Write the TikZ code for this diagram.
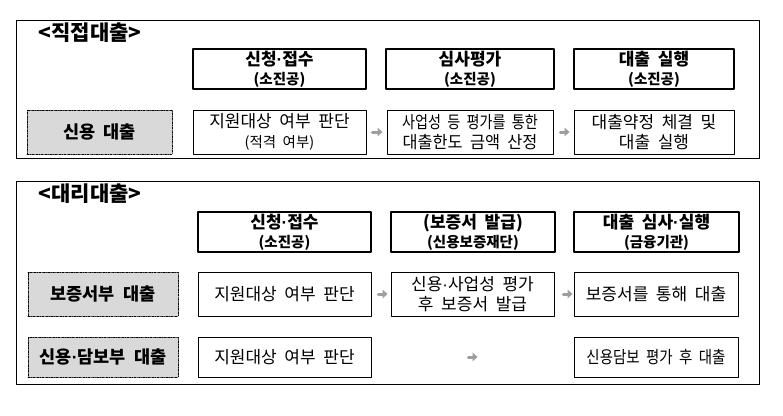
\documentclass[tikz,border=0pt]{standalone}
\usepackage{fontspec}
\usepackage{graphicx}
\setmainfont[WordSpace=2]{Noto Sans CJK KR}
\newfontfamily\dotfont{Liberation Sans}
\usetikzlibrary{arrows.meta}
\newcommand{\subline}[1]{{\fontsize{14.5}{19}\selectfont #1}}
\newcommand{\mdot}{{\dotfont ·}}

\begin{document}
\begin{tikzpicture}[x=1pt, y=-1pt, line cap=round, line join=round,
  frame/.style={draw, line width=0.9pt},
  title/.style={font=\fontsize{21}{22}\selectfont\bfseries},
  headbox/.style={draw, line width=2.2pt, inner sep=0pt, align=center, font=\fontsize{17}{19}\selectfont\bfseries},
  kindbox/.style={draw, fill=black!15, line width=0.6pt, dash pattern=on 2pt off 1pt on 0.6pt off 1pt, inner sep=0pt, font=\fontsize{17.5}{20}\selectfont\bfseries},
  stepbox/.style={draw, line width=0.9pt, inner sep=0pt, align=center, font=\fontsize{17}{20}\selectfont},
  garrow/.style={draw=black!38, line width=3pt, -{Triangle[length=5pt, width=8.5pt]}}]
  \useasboundingbox (0,0) rectangle (783,415);
  %--- direct loans
    \draw[frame] (16,20) rectangle (759,158);
    \node[title] (t1) at (90,33) {<직접대출>};
    \node[headbox, minimum width=173, minimum height=40] (h11) at (279.5,69) {신청\mdot 접수\\\subline{(소진공)}};
    \node[headbox, minimum width=168, minimum height=40] (h12) at (470,69) {심사평가\\\subline{(소진공)}};
    \node[headbox, minimum width=160, minimum height=40] (h13) at (654,69) {대출 실행\\\subline{(소진공)}};
    \node[kindbox, minimum width=145, minimum height=44] (k1) at (99.5,132) {신용 대출};
    \node[stepbox, minimum width=173, minimum height=44] (r11) at (279.5,132) {지원대상 여부 판단\\\subline{(적격 여부)}};
    \node[stepbox, minimum width=166, minimum height=44] (r12) at (470,132) {\scalebox{0.83}[1]{사업성 등 평가를 통한}\\\scalebox{0.96}[1]{대출한도 금액 산정}};
    \node[stepbox, minimum width=160, minimum height=44] (r13) at (654,132) {대출약정 체결 및\\대출 실행};
    \draw[garrow, shorten <=6, shorten >=4] (r11) -- (r12);
    \draw[garrow, shorten <=7, shorten >=4] (r12) -- (r13);
  %--- agency loans
    \draw[frame] (16,181) rectangle (759,384);
    \node[title] (t2) at (90,194) {<대리대출>};
    \node[headbox, minimum width=173, minimum height=40] (h21) at (284.5,232) {신청\mdot 접수\\\subline{(소진공)}};
    \node[headbox, minimum width=164, minimum height=40] (h22) at (473,232) {(보증서 발급)\\\subline{(신용보증재단)}};
    \node[headbox, minimum width=165, minimum height=40] (h23) at (656.5,232) {대출 심사\mdot 실행\\\subline{(금융기관)}};
    \node[kindbox, minimum width=150, minimum height=44] (k21) at (103,294) {보증서부 대출};
    \node[stepbox, minimum width=173, minimum height=44] (r21) at (284.5,294) {지원대상 여부 판단};
    \node[stepbox, minimum width=163, minimum height=44] (r22) at (472.5,294) {신용\mdot 사업성 평가\\후 보증서 발급};
    \node[stepbox, minimum width=164, minimum height=44] (r23) at (656,294) {보증서를 통해 대출};
    \draw[garrow, shorten <=7, shorten >=3] (r21) -- (r22);
    \draw[garrow, shorten <=9, shorten >=1] (r22) -- (r23);
    \node[kindbox, minimum width=150, minimum height=40] (k22) at (103,357) {신용\mdot 담보부 대출};
    \node[stepbox, minimum width=173, minimum height=40] (r31) at (284.5,357) {지원대상 여부 판단};
    \node[stepbox, minimum width=164, minimum height=40] (r33) at (656,357) {\scalebox{0.85}[1]{신용담보 평가 후 대출}};
    \draw[garrow, shorten <=97, shorten >=96] (r31) -- (r33);
\end{tikzpicture}
\end{document}
